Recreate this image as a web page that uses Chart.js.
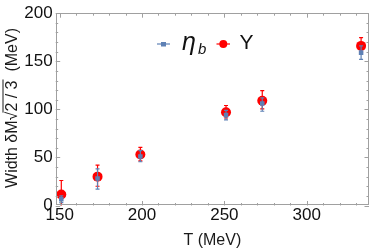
<!DOCTYPE html>
<html>
<head>
<meta charset="utf-8">
<script src="https://cdn.jsdelivr.net/npm/chart.js@4.4.1/dist/chart.umd.min.js"></script>
<style>
  html, body { margin: 0; padding: 0; background: #fff; }
  #wrap { width: 374px; height: 250px; position: relative; }
</style>
</head>
<body>
<div id="wrap"><canvas id="c" width="374" height="250"></canvas></div>
<script>
// ---- data ----
const temperatures = [151, 173, 199, 251, 273, 333];
const etaValues = [6.5, 28, 51, 94, 106, 159];
const etaLow    = [3, 17, 45.5, 89, 98, 152];
const etaHigh   = [10, 38, 57, 99, 112, 166];
const upsValues = [11.5, 30, 53, 97, 109, 166];
const upsLow    = [-3, 20, 46.5, 91, 100.5, 159.5];
const upsHigh   = [26, 42, 60.5, 104, 119.5, 174.5];
const xTickValues = [150, 200, 250, 300];
const yTickValues = [0, 50, 100, 150, 200];
const xMinorStep = 10;
const yMinorStep = 10;
const seriesNames = ['η', 'Υ'];

const BLUE = '#5e81b5';
const RED = '#ff0000';
const FRAME = '#a0a0a0';
const FONT = "'Liberation Sans', Arial, sans-serif";

function toPoints(xs, ys, lo, hi) {
  return xs.map((x, i) => ({ x: x, y: ys[i], lo: lo[i], hi: hi[i] }));
}

const errorBars = {
  id: 'errorBars',
  beforeDatasetDraw(chart, args) {
    const ds = chart.data.datasets[args.index];
    const xs = chart.scales.x, ys = chart.scales.y;
    const ca = chart.chartArea;
    const ctx = chart.ctx;
    ctx.save();
    ctx.beginPath();
    ctx.rect(ca.left, ca.top, ca.right - ca.left, ca.bottom - ca.top);
    ctx.clip();
    ctx.strokeStyle = ds.borderColor;
    ctx.lineWidth = 1.2;
    ds.data.forEach(p => {
      const px = xs.getPixelForValue(p.x);
      const pl = ys.getPixelForValue(p.lo);
      const ph = ys.getPixelForValue(p.hi);
      ctx.beginPath();
      ctx.moveTo(px, pl); ctx.lineTo(px, ph);
      ctx.moveTo(px - 2, pl); ctx.lineTo(px + 2, pl);
      ctx.moveTo(px - 2, ph); ctx.lineTo(px + 2, ph);
      ctx.stroke();
    });
    ctx.restore();
  }
};

const frame = {
  id: 'frame',
  afterDraw(chart) {
    const ctx = chart.ctx;
    const ca = chart.chartArea;
    const xs = chart.scales.x, ys = chart.scales.y;
    ctx.save();
    ctx.strokeStyle = FRAME;
    ctx.lineWidth = 1;
    ctx.strokeRect(Math.round(ca.left) + 0.5, Math.round(ca.top) + 0.5,
                   Math.round(ca.right - ca.left) - 1, Math.round(ca.bottom - ca.top) - 1);
    ctx.beginPath();
    for (let v = Math.ceil(xs.min / xMinorStep) * xMinorStep; v <= xs.max; v += xMinorStep) {
      const px = Math.round(xs.getPixelForValue(v)) + 0.5;
      const major = xTickValues.includes(v);
      const len = major ? 4.5 : 2.5;
      ctx.moveTo(px, ca.bottom); ctx.lineTo(px, ca.bottom - len);
      ctx.moveTo(px, ca.top); ctx.lineTo(px, ca.top + len);
    }
    for (let v = 0; v <= ys.max; v += yMinorStep) {
      const py = Math.round(ys.getPixelForValue(v)) + 0.5;
      const major = yTickValues.includes(v);
      const len = major ? 4.5 : 2.5;
      ctx.moveTo(ca.left, py); ctx.lineTo(ca.left + len, py);
      ctx.moveTo(ca.right, py); ctx.lineTo(ca.right - len, py);
    }
    ctx.stroke();

    // legend
    ctx.lineWidth = 1.2;
    ctx.strokeStyle = BLUE; ctx.fillStyle = BLUE;
    ctx.beginPath(); ctx.moveTo(157, 44); ctx.lineTo(170, 44); ctx.stroke();
    ctx.fillRect(161, 42, 5, 4.5);
    ctx.strokeStyle = RED; ctx.fillStyle = RED;
    ctx.beginPath(); ctx.moveTo(216.5, 44); ctx.lineTo(230, 44); ctx.stroke();
    ctx.beginPath(); ctx.arc(223.3, 44, 4, 0, Math.PI * 2); ctx.fill();

    ctx.fillStyle = '#111';
    ctx.textBaseline = 'alphabetic';
    ctx.textAlign = 'left';
    ctx.font = 'italic 25px ' + FONT;
    ctx.fillText(seriesNames[0], 182, 50);
    ctx.font = 'italic 15px ' + FONT;
    ctx.fillText('b', 198, 53.5);
    ctx.font = '21px ' + FONT;
    ctx.fillText(seriesNames[1], 239.5, 48.5);

    // y axis title with radical
    ctx.save();
    ctx.translate(16.5, 108);
    ctx.rotate(-Math.PI / 2);
    ctx.font = '16px ' + FONT;
    ctx.fillStyle = '#1a1a1a';
    const p1 = 'Width δM', p2 = '√', p3 = '2 / 3', p4 = '  (MeV)';
    const w1 = ctx.measureText(p1).width, w2 = ctx.measureText(p2).width;
    const w3 = ctx.measureText(p3).width, w4 = ctx.measureText(p4).width;
    let x0 = -(w1 + w2 + w3 + w4) / 2;
    ctx.fillText(p1, x0, 0);
    ctx.fillText(p2, x0 + w1, 0);
    ctx.fillText(p3, x0 + w1 + w2, 0);
    ctx.fillText(p4, x0 + w1 + w2 + w3, 0);
    ctx.strokeStyle = '#1a1a1a';
    ctx.lineWidth = 1;
    ctx.beginPath();
    ctx.moveTo(x0 + w1 + w2 - 1, -13.5);
    ctx.lineTo(x0 + w1 + w2 + w3 + 1, -13.5);
    ctx.stroke();
    ctx.restore();
    ctx.restore();
  }
};

new Chart(document.getElementById('c'), {
  type: 'scatter',
  data: {
    datasets: [
      {
        label: 'eta_b',
        data: toPoints(temperatures, etaValues, etaLow, etaHigh),
        backgroundColor: BLUE, borderColor: BLUE,
        pointStyle: 'rect', pointRadius: 3.2, pointBorderWidth: 0
      },
      {
        label: 'Upsilon',
        data: toPoints(temperatures, upsValues, upsLow, upsHigh),
        backgroundColor: RED, borderColor: RED,
        pointStyle: 'circle', pointRadius: 5, pointBorderWidth: 0
      }
    ]
  },
  options: {
    responsive: false,
    animation: false,
    devicePixelRatio: 1,
    layout: { padding: { top: 9.7, right: 1.3, left: 0, bottom: 0 } },
    plugins: { legend: { display: false }, tooltip: { enabled: false } },
    scales: {
      x: {
        type: 'linear', min: 147.6, max: 337.8,
        afterBuildTicks: s => { s.ticks = xTickValues.map(v => ({ value: v })); },
        afterFit: s => { s.height = 44.5; },
        grid: { display: false, drawTicks: false },
        border: { display: false },
        ticks: { color: '#111', font: { family: FONT, size: 17 }, padding: 0, maxRotation: 0, autoSkip: false },
        title: { display: true, text: 'T (MeV)', color: '#1a1a1a', font: { family: FONT, size: 16 }, padding: { top: 0, bottom: 0 } }
      },
      y: {
        type: 'linear', min: 0, max: 200,
        afterBuildTicks: s => { s.ticks = yTickValues.map(v => ({ value: v })); },
        afterFit: s => { s.width = 55.7; },
        grid: { display: false, drawTicks: false },
        border: { display: false },
        ticks: { color: '#111', font: { family: FONT, size: 17 }, padding: 3, autoSkip: false }
      }
    }
  },
  plugins: [errorBars, frame]
});
</script>
</body>
</html>
